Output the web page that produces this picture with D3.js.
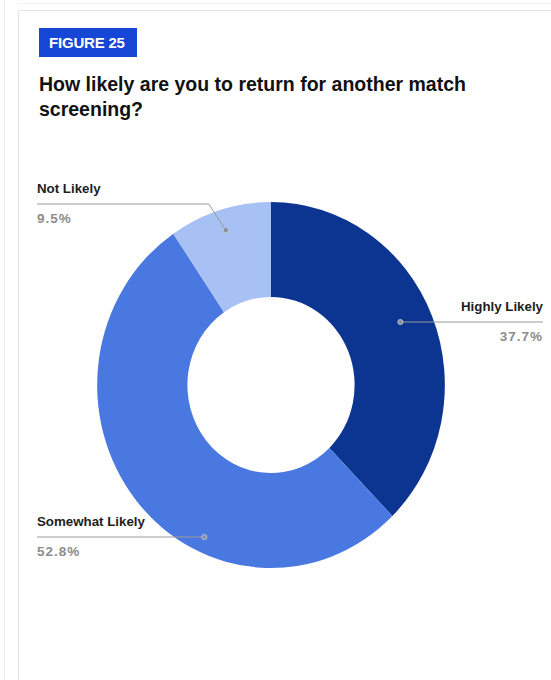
<!DOCTYPE html>
<html>
<head>
<meta charset="utf-8">
<script src="https://cdn.jsdelivr.net/npm/d3@7"></script>
<style>
  html, body { margin: 0; padding: 0; background: #fff; }
  svg { display: block; font-family: "Liberation Sans", Arial, Helvetica, sans-serif; }
</style>
</head>
<body>
<svg id="chart" width="551" height="680"></svg>
<script>
// Survey responses
const categories = ["Highly Likely", "Somewhat Likely", "Not Likely"];
const shares = [37.7, 52.8, 9.5];
const valueLabels = ["37.7%", "52.8%", "9.5%"];
const sliceColors = ["#0c3491", "#4a78e1", "#a8c1f5"];

const figureTag = "FIGURE 25";
const titleLines = ["How likely are you to return for another match", "screening?"];

const W = 551, H = 680;
const svg = d3.select("#chart");

// page frame and card outline
svg.append("line").attr("x1", 4.5).attr("x2", 4.5).attr("y1", 0).attr("y2", H)
  .attr("stroke", "#ececec");
svg.append("line").attr("x1", 18).attr("x2", W).attr("y1", 3.5).attr("y2", 3.5)
  .attr("stroke", "#f3f3f3");
svg.append("rect").attr("x", 18.5).attr("y", 10.5).attr("width", W + 10).attr("height", H + 10)
  .attr("fill", "#fff").attr("stroke", "#e4e4e4");

// figure tag
svg.append("rect").attr("x", 39).attr("y", 28).attr("width", 98).attr("height", 29)
  .attr("fill", "#1646d6");
svg.append("text").attr("x", 49).attr("y", 48)
  .attr("fill", "#fff").attr("font-weight", "bold").attr("font-size", 15)
  .attr("letter-spacing", "-0.2")
  .text(figureTag);

// title
svg.append("g").selectAll("text").data(titleLines).join("text")
  .attr("x", 39).attr("y", (d, i) => 91 + i * 25)
  .attr("fill", "#111").attr("font-weight", "bold").attr("font-size", 19.5)
  .text(d => d);

// donut (drawn slightly narrower than tall)
const cx = 271, cy = 385, rOuter = 183, rInner = 88, squeeze = 0.95;
const data = categories.map((c, i) => ({ category: c, value: shares[i], label: valueLabels[i], color: sliceColors[i] }));
const pie = d3.pie().value(d => d.value).sort(null);
const arc = d3.arc().innerRadius(rInner).outerRadius(rOuter);
const arcs = pie(data);

const g = svg.append("g").attr("transform", `translate(${cx},${cy}) scale(${squeeze},1)`);
g.selectAll("path").data(arcs).join("path")
  .attr("d", arc)
  .attr("fill", d => d.data.color);

// callout layout: label side and leader line height (relative to centre)
const callouts = {
  "Highly Likely":   { side: "right", lineY: -63, xEdge: 543 },
  "Somewhat Likely": { side: "left",  lineY: 152, xEdge: 37 },
  "Not Likely":      { side: "left",  lineY: -181, xEdge: 37, elbow: true }
};

const ann = svg.append("g");
arcs.forEach(a => {
  const c = callouts[a.data.category];
  const mid = (a.startAngle + a.endAngle) / 2;
  let dot, pts;
  const ly = cy + c.lineY;
  if (c.elbow) {
    const rr = rOuter * 0.885;
    dot = [cx + squeeze * rr * Math.sin(mid), cy - rr * Math.cos(mid)];
    const elbowX = dot[0] - 17;
    pts = [dot, [elbowX, ly], [c.xEdge, ly]];
  } else {
    const rr = rOuter * (c.side === "right" ? 0.82 : 0.915);
    const dx = squeeze * Math.sqrt(rr * rr - c.lineY * c.lineY) * (c.side === "right" ? 1 : -1);
    dot = [cx + dx, ly];
    pts = [dot, [c.xEdge, ly]];
  }
  ann.append("path")
    .attr("d", d3.line()(pts))
    .attr("fill", "none").attr("stroke", "#9a9a9a").attr("stroke-width", 1);
  ann.append("circle").attr("cx", dot[0]).attr("cy", dot[1]).attr("r", 2.6)
    .attr("fill", "#8a8fa0").attr("stroke", "#c8cbd4").attr("stroke-width", 0.8);

  const anchor = c.side === "right" ? "end" : "start";
  ann.append("text").attr("x", c.xEdge).attr("y", ly - 11)
    .attr("text-anchor", anchor).attr("font-weight", "bold").attr("font-size", 13.3)
    .attr("fill", "#1e1e1e").text(a.data.category);
  ann.append("text").attr("x", c.xEdge).attr("y", ly + 19)
    .attr("text-anchor", anchor).attr("font-weight", "bold").attr("font-size", 13.5)
    .attr("letter-spacing", "1")
    .attr("fill", "#8c8c8c").text(a.data.label);
});
</script>
</body>
</html>
